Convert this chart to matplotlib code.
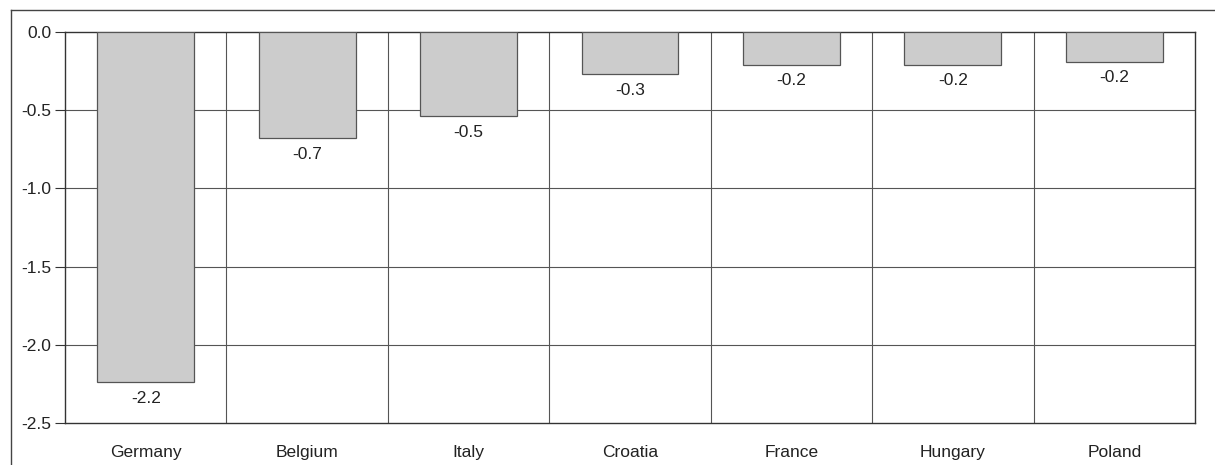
import matplotlib
matplotlib.use("Agg")
import matplotlib.pyplot as plt
from matplotlib.lines import Line2D
import numpy as np

plt.rcParams['font.family'] = ['Liberation Sans', 'DejaVu Sans']

countries = ["Germany", "Belgium", "Italy", "Croatia", "France", "Hungary", "Poland"]
values = [-2.24, -0.68, -0.54, -0.27, -0.21, -0.21, -0.19]
y_ticks = [0.0, -0.5, -1.0, -1.5, -2.0, -2.5]

FS = 12.5

fig = plt.figure(figsize=(12.15, 4.65), dpi=100)
W, H = 1215, 465
ax = fig.add_axes([65 / W, 1 - 423 / H, (1195 - 65) / W, (423 - 32) / H])

x = np.arange(len(countries))
ax.bar(x, values, width=0.6, color="#cccccc", edgecolor="#555555", linewidth=0.9, zorder=3)

for xi, v in zip(x, values):
    ax.annotate(f"{v:.1f}", xy=(xi, v), xytext=(0, -6), textcoords="offset points",
                ha="center", va="top", fontsize=FS, color="#222222")

ax.set_xlim(-0.5, len(countries) - 0.5)
ax.set_ylim(-2.5, 0.0)
ax.set_yticks(y_ticks)
ax.set_yticklabels([f"{t:.1f}" for t in y_ticks], fontsize=FS, color="#222222")

# category separators and value grid
for b in np.arange(0.5, len(countries) - 0.5, 1.0):
    ax.axvline(b, color="#555555", linewidth=0.8, zorder=1)
for t in y_ticks[1:-1]:
    ax.axhline(t, color="#555555", linewidth=0.8, zorder=1)

ax.set_xticks(x)
ax.set_xticklabels(countries, fontsize=FS, color="#222222")
ax.tick_params(axis="x", length=0, pad=16)
ax.tick_params(axis="y", length=7, width=0.8, color="#333333", pad=3)

for s in ax.spines.values():
    s.set_color("#333333")
    s.set_linewidth(1.0)

# outer frame on the left and top of the figure
fig.add_artist(Line2D([11 / W, 11 / W], [0, 1 - 10 / H], transform=fig.transFigure,
                      color="#444444", linewidth=1.0))
fig.add_artist(Line2D([11 / W, 1], [1 - 10 / H, 1 - 10 / H], transform=fig.transFigure,
                      color="#444444", linewidth=1.0))

fig.savefig("out.png", dpi=100)
